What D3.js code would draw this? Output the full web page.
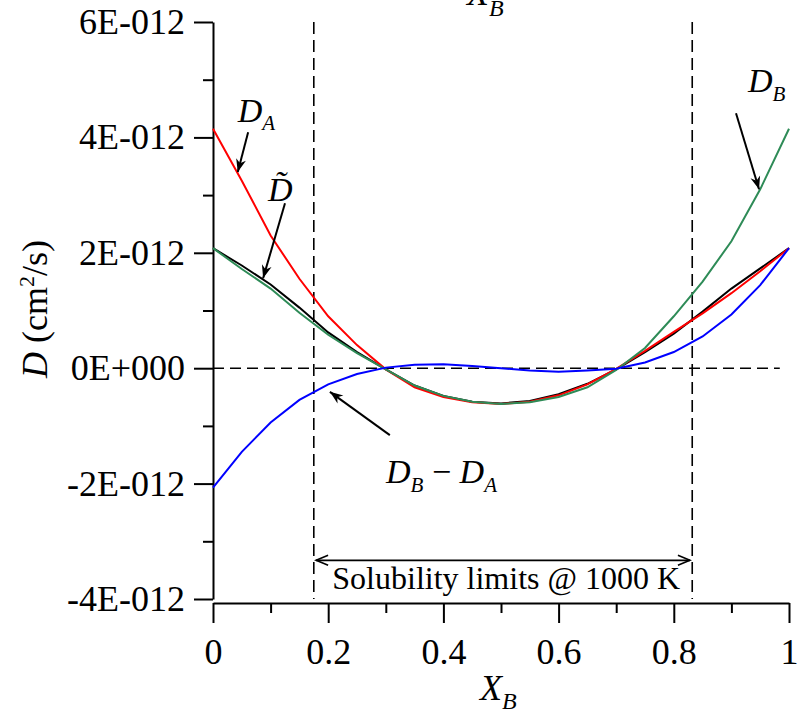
<!DOCTYPE html>
<html>
<head>
<meta charset="utf-8">
<script src="https://cdn.jsdelivr.net/npm/d3@7/dist/d3.min.js"></script>
<style>
  html, body { margin: 0; padding: 0; background: #fff; }
  svg { display: block; }
  text { font-family: "Liberation Serif", "Times New Roman", serif; fill: #000; }
</style>
</head>
<body>
<script>
// ---- data (D values in units of 1e-12 cm^2/s) ----
const xB = [0, 0.05, 0.1, 0.15, 0.2, 0.25, 0.3, 0.35, 0.4, 0.45, 0.5,
            0.55, 0.6, 0.65, 0.7, 0.75, 0.8, 0.85, 0.9, 0.95, 1];
const D_A = [4.15, 3.25, 2.30, 1.55, 0.90, 0.40, -0.02, -0.33, -0.50, -0.59, -0.62,
             -0.58, -0.47, -0.28, -0.01, 0.30, 0.63, 0.95, 1.30, 1.68, 2.08];
const D_tilde = [2.08, 1.78, 1.45, 1.05, 0.62, 0.28, -0.02, -0.30, -0.48, -0.58, -0.61,
                 -0.57, -0.45, -0.27, -0.02, 0.28, 0.60, 0.98, 1.38, 1.73, 2.08];
const D_B = [2.08, 1.72, 1.38, 0.96, 0.58, 0.26, -0.02, -0.30, -0.48, -0.58, -0.62,
             -0.59, -0.50, -0.33, -0.03, 0.35, 0.90, 1.50, 2.20, 3.10, 4.15];
const D_BminusA = [-2.07, -1.45, -0.94, -0.55, -0.28, -0.10, 0.01, 0.06, 0.07, 0.04, 0.00,
                   -0.04, -0.06, -0.04, -0.01, 0.10, 0.28, 0.55, 0.93, 1.44, 2.08];

const yTickValues = [-4, -2, 0, 2, 4, 6];
const yTickLabels = ["-4E-012", "-2E-012", "0E+000", "2E-012", "4E-012", "6E-012"];
const yMinorTicks = [-3, -1, 1, 3, 5];
const xTickValues = [0, 0.2, 0.4, 0.6, 0.8, 1];
const xTickLabels = ["0", "0.2", "0.4", "0.6", "0.8", "1"];
const xMinorTicks = [0.1, 0.3, 0.5, 0.7, 0.9];

const solubilityLimits = [0.175, 0.832];
const solubilityText = "Solubility limits @ 1000 K";

// ---- layout ----
const W = 800, H = 715;
const svg = d3.select("body").append("svg").attr("width", W).attr("height", H);

const x = d3.scaleLinear().domain([0, 1]).range([213, 789]);
const y = d3.scaleLinear().domain([-4, 6]).range([599, 22]);
const xAxisY = 603;

const FS = 36;

// Y axis
const yAxis = d3.axisLeft(y).tickValues(yTickValues)
  .tickFormat((d, i) => yTickLabels[i]).tickSizeInner(19).tickSizeOuter(0).tickPadding(9);
const gy = svg.append("g").attr("transform", `translate(${x(0)},0)`).call(yAxis);
gy.selectAll("path, line").attr("stroke", "#000").attr("stroke-width", 2);
gy.selectAll("text").attr("font-size", FS).attr("font-family", "Liberation Serif");
const gyMinor = svg.append("g").attr("transform", `translate(${x(0)},0)`)
  .call(d3.axisLeft(y).tickValues(yMinorTicks).tickFormat("").tickSizeInner(10).tickSizeOuter(0));
gyMinor.select(".domain").remove();
gyMinor.selectAll("line").attr("stroke", "#000").attr("stroke-width", 2);

// X axis
const xAxis = d3.axisBottom(x).tickValues(xTickValues)
  .tickFormat((d, i) => xTickLabels[i]).tickSizeInner(20).tickSizeOuter(0).tickPadding(15);
const gx = svg.append("g").attr("transform", `translate(0,${xAxisY})`).call(xAxis);
gx.selectAll("path, line").attr("stroke", "#000").attr("stroke-width", 2);
gx.selectAll("text").attr("font-size", FS).attr("font-family", "Liberation Serif");
const gxMinor = svg.append("g").attr("transform", `translate(0,${xAxisY})`)
  .call(d3.axisBottom(x).tickValues(xMinorTicks).tickFormat("").tickSizeInner(10).tickSizeOuter(0));
gxMinor.select(".domain").remove();
gxMinor.selectAll("line").attr("stroke", "#000").attr("stroke-width", 2);

// dashed reference lines
svg.append("line")
  .attr("x1", x(0)).attr("x2", x(0.984)).attr("y1", y(0)).attr("y2", y(0))
  .attr("stroke", "#000").attr("stroke-width", 1.6).attr("stroke-dasharray", "11,6");
svg.selectAll("line.vlim").data(solubilityLimits).join("line").attr("class", "vlim")
  .attr("x1", d => x(d)).attr("x2", d => x(d)).attr("y1", y(6)).attr("y2", y(-4))
  .attr("stroke", "#000").attr("stroke-width", 1.6).attr("stroke-dasharray", "12,6");

// curves
const series = [
  { vals: D_tilde, color: "#000000" },
  { vals: D_A, color: "#ff0000" },
  { vals: D_B, color: "#2e8b57" },
  { vals: D_BminusA, color: "#0000ff" }
];
const line = d3.line().x((d, i) => x(xB[i])).y(d => y(d));
svg.selectAll("path.curve").data(series).join("path").attr("class", "curve")
  .attr("d", d => line(d.vals)).attr("fill", "none")
  .attr("stroke", d => d.color).attr("stroke-width", 2);

// arrow markers
const defs = svg.append("defs");
defs.append("marker").attr("id", "ah").attr("viewBox", "-14 -6 16 12")
  .attr("refX", 0).attr("refY", 0).attr("markerWidth", 16).attr("markerHeight", 12)
  .attr("markerUnits", "userSpaceOnUse").attr("orient", "auto")
  .append("path").attr("d", "M0,0 L-13,-5 L-9,0 L-13,5 Z").attr("fill", "#000");
defs.append("marker").attr("id", "open").attr("viewBox", "-14 -7 16 14")
  .attr("refX", 0).attr("refY", 0).attr("markerWidth", 16).attr("markerHeight", 14)
  .attr("markerUnits", "userSpaceOnUse").attr("orient", "auto-start-reverse")
  .append("path").attr("d", "M-12,-5 L0,0 L-12,5").attr("fill", "none")
  .attr("stroke", "#000").attr("stroke-width", 1.6);

// annotation arrows (data coordinates: from -> tip)
const arrows = [
  { x1: 0.061, y1: 4.09, x2: 0.043, y2: 3.40 },
  { x1: 0.125, y1: 2.86, x2: 0.087, y2: 1.56 },
  { x1: 0.908, y1: 4.42, x2: 0.948, y2: 3.10 },
  { x1: 0.307, y1: -1.16, x2: 0.203, y2: -0.41 }
];
svg.selectAll("line.ann").data(arrows).join("line").attr("class", "ann")
  .attr("x1", d => x(d.x1)).attr("y1", d => y(d.y1))
  .attr("x2", d => x(d.x2)).attr("y2", d => y(d.y2))
  .attr("stroke", "#000").attr("stroke-width", 2).attr("marker-end", "url(#ah)");

// solubility double arrow
svg.append("line")
  .attr("x1", x(0.179)).attr("x2", x(0.828)).attr("y1", y(-3.33)).attr("y2", y(-3.33))
  .attr("stroke", "#000").attr("stroke-width", 1.6)
  .attr("marker-start", "url(#open)").attr("marker-end", "url(#open)");
svg.append("text").attr("x", x(0.509)).attr("y", 589).attr("text-anchor", "middle")
  .attr("font-size", 32).text(solubilityText);

// helper for italic symbol with subscript
function symbol(px, py, main, sub, fs, subFs, subDy) {
  const t = svg.append("text").attr("x", px).attr("y", py).attr("font-style", "italic");
  t.append("tspan").attr("font-size", fs).text(main);
  t.append("tspan").attr("font-size", subFs).attr("dy", subDy).text(sub);
  return t;
}

// labels
symbol(x(0.043), 122, "D", "A", 34, 21, 8);
svg.append("text").attr("x", 268).attr("y", 201).attr("font-style", "italic")
  .attr("font-size", 34).text("D\u0303");
symbol(748, 92, "D", "B", 34, 21, 9);
// D_B - D_A
const lbl = svg.append("text").attr("x", 386).attr("y", 483).attr("font-style", "italic");
lbl.append("tspan").attr("font-size", 34).text("D");
lbl.append("tspan").attr("font-size", 21).attr("dy", 9).text("B");
lbl.append("tspan").attr("font-size", 34).attr("dy", -9).attr("font-style", "normal").text(" \u2212 ");
lbl.append("tspan").attr("font-size", 34).text("D");
lbl.append("tspan").attr("font-size", 21).attr("dy", 9).text("A");

// axis titles
symbol(480, 700, "X", "B", FS, 24, 9);
symbol(467, 5, "X", "B", FS, 24, 11);

const yl = svg.append("text").attr("transform", "translate(47,309) rotate(-90)")
  .attr("text-anchor", "middle").attr("font-size", FS);
yl.append("tspan").attr("font-style", "italic").text("D");
yl.append("tspan").text(" (cm");
yl.append("tspan").attr("font-size", 22).attr("dy", -13).text("2");
yl.append("tspan").attr("dy", 13).text("/s)");
</script>
</body>
</html>
